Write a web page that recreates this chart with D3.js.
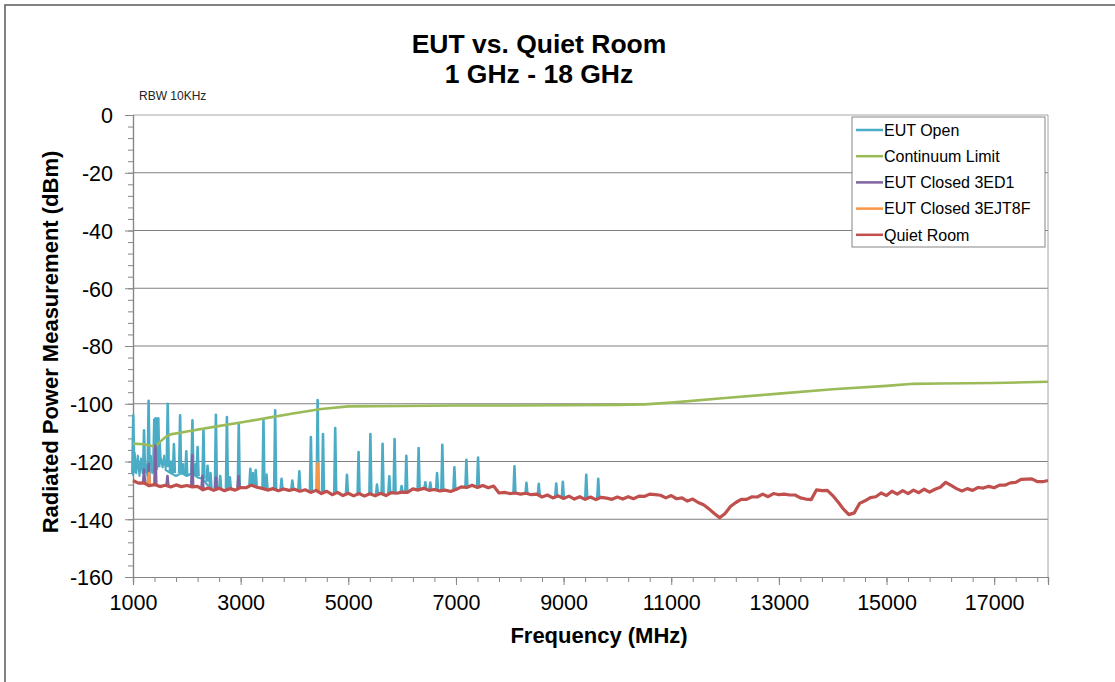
<!DOCTYPE html>
<html>

<head>
    <meta charset="UTF-8">
    <title>EUT vs. Quiet Room</title>
    <script src="https://cdn.jsdelivr.net/npm/d3@7"></script>
    <style>
        body { margin: 0; background: #fff; }
        text { font-family: "Liberation Sans", Arial, sans-serif; }
    </style>
</head>

<body>
    <script>
        // ---- data (MHz, dBm) ----
        const xTicks = [1000, 3000, 5000, 7000, 9000, 11000, 13000, 15000, 17000];
        const yTicks = [0, -20, -40, -60, -80, -100, -120, -140, -160];

        const seriesNames = ["EUT Open", "Continuum Limit", "EUT Closed 3ED1", "EUT Closed 3EJT8F", "Quiet Room"];
        const seriesColors = ["#4BACC6", "#9BBB59", "#8064A2", "#F79646", "#C0504D"];

        const continuumLimit = [
            [1000, -113.8], [1200, -114.0], [1350, -114.6], [1420, -114.8], [1500, -113.2], [1600, -111.6],
            [1700, -110.6], [2000, -109.6], [2500, -108.0], [3000, -106.5], [3500, -104.9], [4000, -103.3],
            [4500, -101.8], [5000, -100.9], [6000, -100.8], [7000, -100.6], [8000, -100.6], [9000, -100.5],
            [10000, -100.4], [10500, -100.2], [11000, -99.6], [12000, -98.0], [13000, -96.5], [14000, -95.0],
            [15000, -93.8], [15500, -93.1], [16000, -93.0], [17000, -92.8], [18000, -92.4]
        ];

        // quiet room, every 100 MHz from 1000 to 18000
        const quietFreqStart = 1000, quietFreqStep = 100;
        const quietRoom = [
            -126.6, -127.5, -127.4, -128.4, -128.0, -128.7, -128.2, -128.8, -128.1, -128.7,
            -128.3, -128.8, -128.6, -129.8, -129.2, -130.0, -129.3, -130.1, -129.4, -129.9,
            -129.0, -129.1, -128.2, -128.9, -129.3, -129.9, -129.4, -130.1, -129.5, -130.0,
            -129.6, -130.3, -129.8, -130.7, -130.0, -131.1, -130.3, -131.5, -130.7, -131.8,
            -131.0, -131.9, -131.1, -132.0, -131.2, -131.9, -131.0, -131.8, -130.8, -131.0,
            -130.6, -130.7, -129.5, -129.9, -129.3, -130.0, -129.7, -130.2, -129.9, -130.4,
            -129.7, -128.8, -129.0, -128.2, -129.0, -128.3, -129.1, -128.5, -130.9, -130.7,
            -131.1, -130.9, -131.3, -131.0, -131.5, -131.3, -132.3, -131.6, -132.6, -131.9,
            -132.8, -132.0, -133.0, -132.2, -133.1, -132.3, -133.2, -132.4, -132.7, -133.1,
            -132.3, -133.0, -132.2, -132.9, -132.0, -132.1, -131.3, -131.5, -131.7, -132.6,
            -131.8, -132.9, -132.6, -133.7, -133.0, -134.2, -135.0, -136.4, -138.0, -139.5,
            -138.0, -135.6, -134.2, -133.1, -133.1, -132.2, -132.3, -131.3, -132.2, -131.1,
            -131.5, -131.3, -131.6, -131.6, -132.6, -133.0, -133.2, -129.8, -130.1, -130.0,
            -131.8, -134.0, -136.5, -138.4, -137.8, -134.5, -133.6, -132.5, -132.2, -130.9,
            -131.8, -130.3, -131.3, -130.1, -131.1, -129.9, -130.8, -129.6, -130.6, -129.6,
            -128.9, -127.2, -128.3, -129.4, -130.2, -129.4, -130.0, -129.0, -129.2, -128.6,
            -129.1, -128.2, -128.2, -127.4, -127.2, -126.2, -126.1, -126.0, -127.0, -127.0,
            -126.6
        ];

        // EUT open: raised floor in the crowded low band
        const openFloor = [
            [1000, -125], [1030, -117], [1060, -124], [1090, -118], [1120, -125], [1150, -119], [1180, -124],
            [1240, -121], [1270, -125], [1330, -118], [1360, -124], [1520, -119], [1550, -122], [1580, -118],
            [1610, -123], [1700, -124], [1800, -125], [1900, -124], [2000, -125], [2100, -124], [2200, -125.5],
            [2300, -126], [2400, -128.6]
        ];

        // spurs: [freq, peak, foot]
        const openSpurs = [
            [1005, -104, -124], [1205, -109.2, -124], [1290, -99, -124], [1395, -105.5, -123], [1420, -105, -123],
            [1445, -105.2, -122], [1470, -105, -122], [1495, -113, -121], [1645, -100, -122], [1700, -120, -124],
            [1760, -114, -124], [1875, -104, -124], [1930, -121, -124.5], [1990, -116.5, -125], [2104, -105.7, -124],
            [2160, -121, -125], [2200, -115, -125], [2309, -109, -126], [2385, -121.5, -127], [2440, -124, -129.4],
            [2540, -103.8, -129.4], [2620, -125, -129.6], [2745, -104.6, -129.5], [2800, -125.5, -129.7],
            [2965, -107.3, -129.3], [3180, -122.5, -128.6], [3230, -124, -128.5], [3280, -123, -128.6],
            [3424, -105.6, -129.5], [3480, -124.5, -129.4], [3641, -102.3, -129.6], [3760, -126, -129.6],
            [3960, -126.6, -129.7], [4090, -123.4, -129.8], [4305, -111.5, -130.3], [4430, -98.7, -130.3],
            [4530, -110.5, -130.7], [4757, -108.4, -131], [4975, -124.6, -131.3], [5191, -116.7, -131.4],
            [5410, -110.5, -131.4], [5533, -128, -131.5], [5637, -113.9, -131.3], [5762, -125.1, -131.3],
            [5860, -112.2, -130.9], [5990, -128.5, -130.8], [6078, -118, -130.6], [6307, -115.3, -129.6],
            [6431, -127.2, -129.7], [6524, -127.3, -129.7], [6649, -124, -129.9], [6747, -114.2, -130],
            [6971, -122, -129.9], [7194, -119.4, -128.8], [7411, -118.6, -128.7], [8087, -121.7, -131.1],
            [8310, -127.4, -131.2], [8539, -127.7, -131.7], [8863, -127.6, -132.2], [8986, -127, -132.4],
            [9421, -124.6, -132.6], [9644, -126, -132.7]
        ];

        const closed3ED1Spurs = [
            [1205, -122.8, -127.5], [1292, -120.8, -127.8], [1415, -114.5, -128.2], [1640, -125, -128.5],
            [2100, -117.8, -128.6], [2290, -125, -129.4], [2540, -125.6, -129.5], [2960, -125, -129.4]
        ];

        const closed3EJT8FSpurs = [
            [1295, -124, -127.8], [4430, -120.5, -130.3]
        ];

        // ---- layout ----
        const width = 1115;
        const height = 682;
        const plot = { left: 133, right: 1048, top: 115, bottom: 577 };

        const x = d3.scaleLinear().domain([1000, 18000]).range([plot.left, plot.right]);
        const y = d3.scaleLinear().domain([-160, 0]).range([plot.bottom, plot.top]);

        const svg = d3.select('body')
            .append('svg')
            .attr('width', width)
            .attr('height', height);

        // outer frame
        svg.append('path')
            .attr('d', `M5,${height} V5 H${width}`)
            .attr('fill', 'none')
            .attr('stroke', '#595959')
            .attr('stroke-width', 1.5);

        // gridlines
        svg.append('g')
            .selectAll('line')
            .data(yTicks.filter(d => d > -160))
            .join('line')
            .attr('x1', plot.left)
            .attr('x2', plot.right)
            .attr('y1', d => y(d))
            .attr('y2', d => y(d))
            .attr('stroke', d => d === 0 ? '#a6a6a6' : '#7f7f7f')
            .attr('stroke-width', 1);

        // right border of plot area
        svg.append('line')
            .attr('x1', plot.right).attr('x2', plot.right)
            .attr('y1', plot.top).attr('y2', plot.bottom)
            .attr('stroke', '#a6a6a6');

        // axes
        const plain = d => String(d);
        const xMinor = svg.append('g')
            .attr('transform', `translate(0,${plot.bottom})`)
            .call(d3.axisBottom(x).tickValues(d3.range(1000, 18001, 400)).tickSize(5).tickFormat(''));
        const xAxis = svg.append('g')
            .attr('transform', `translate(0,${plot.bottom})`)
            .call(d3.axisBottom(x).tickValues(xTicks).tickSize(8).tickPadding(10).tickFormat(plain));
        const yMinor = svg.append('g')
            .attr('transform', `translate(${plot.left},0)`)
            .call(d3.axisLeft(y).tickValues(d3.range(-160, 1, 4)).tickSize(5).tickFormat(''));
        const yAxis = svg.append('g')
            .attr('transform', `translate(${plot.left},0)`)
            .call(d3.axisLeft(y).tickValues(yTicks).tickSize(8).tickPadding(12).tickFormat(plain));

        [xMinor, xAxis, yMinor, yAxis].forEach(g => {
            g.select('.domain').attr('stroke', '#868686').attr('stroke-width', 1.2);
            g.selectAll('.tick line').attr('stroke', '#868686');
            g.selectAll('.tick text')
                .attr('font-family', '"Liberation Sans", Arial, sans-serif')
                .attr('font-size', 21.5)
                .attr('fill', '#000');
        });
        xAxis.selectAll('.tick text').attr('dy', '0.71em');
        yAxis.selectAll('.tick text').attr('dy', '0.36em');

        // ---- series ----
        const line = d3.line().x(d => x(d[0])).y(d => y(d[1]));
        const spurPath = s => line([[s[0] - 18, s[2]], [s[0], s[1]], [s[0] + 18, s[2]]]);

        const series = svg.append('g').attr('fill', 'none').attr('stroke-linejoin', 'round');

        // EUT Open
        series.append('path')
            .attr('d', line(openFloor))
            .attr('stroke', seriesColors[0])
            .attr('stroke-width', 2.2);
        series.append('g')
            .selectAll('path')
            .data(openSpurs)
            .join('path')
            .attr('d', spurPath)
            .attr('stroke', seriesColors[0])
            .attr('stroke-width', 2.6);

        // Continuum Limit
        series.append('path')
            .attr('d', line(continuumLimit))
            .attr('stroke', seriesColors[1])
            .attr('stroke-width', 2.6);

        // EUT Closed 3ED1 / 3EJT8F
        series.append('g')
            .selectAll('path')
            .data(closed3ED1Spurs)
            .join('path')
            .attr('d', spurPath)
            .attr('stroke', seriesColors[2])
            .attr('stroke-width', 2.6);
        series.append('g')
            .selectAll('path')
            .data(closed3EJT8FSpurs)
            .join('path')
            .attr('d', spurPath)
            .attr('stroke', seriesColors[3])
            .attr('stroke-width', 2.6);

        // Quiet Room
        series.append('path')
            .attr('d', line(quietRoom.map((v, i) => [quietFreqStart + i * quietFreqStep, v])))
            .attr('stroke', seriesColors[4])
            .attr('stroke-width', 3.2);

        // ---- titles ----
        svg.append('text')
            .attr('x', 539).attr('y', 53)
            .attr('text-anchor', 'middle')
            .attr('font-size', 26.5).attr('font-weight', 'bold')
            .text('EUT vs. Quiet Room');
        svg.append('text')
            .attr('x', 539).attr('y', 83)
            .attr('text-anchor', 'middle')
            .attr('font-size', 26.5).attr('font-weight', 'bold')
            .text('1 GHz - 18 GHz');
        svg.append('text')
            .attr('x', 139).attr('y', 100)
            .attr('font-family', '"Open Sans", sans-serif')
            .attr('font-size', 12)
            .attr('fill', '#222')
            .text('RBW 10KHz');

        svg.append('text')
            .attr('x', 599).attr('y', 643)
            .attr('text-anchor', 'middle')
            .attr('font-size', 22).attr('font-weight', 'bold')
            .text('Frequency (MHz)');
        svg.append('text')
            .attr('transform', 'translate(58,342) rotate(-90)')
            .attr('text-anchor', 'middle')
            .attr('font-size', 22).attr('font-weight', 'bold')
            .text('Radiated Power Measurement (dBm)');

        // ---- legend ----
        const legend = svg.append('g').attr('transform', 'translate(852,117)');
        legend.append('rect')
            .attr('width', 193).attr('height', 130)
            .attr('fill', '#fff')
            .attr('stroke', '#868686');
        const item = legend.selectAll('g.item')
            .data(seriesNames)
            .join('g')
            .attr('class', 'item')
            .attr('transform', (d, i) => `translate(0,${13 + i * 26.2})`);
        item.append('line')
            .attr('x1', 4).attr('x2', 31)
            .attr('stroke', (d, i) => seriesColors[i])
            .attr('stroke-width', 2.5);
        item.append('text')
            .attr('x', 32).attr('dy', '0.36em')
            .attr('font-size', 16)
            .text(d => d);
    </script>
</body>

</html>
